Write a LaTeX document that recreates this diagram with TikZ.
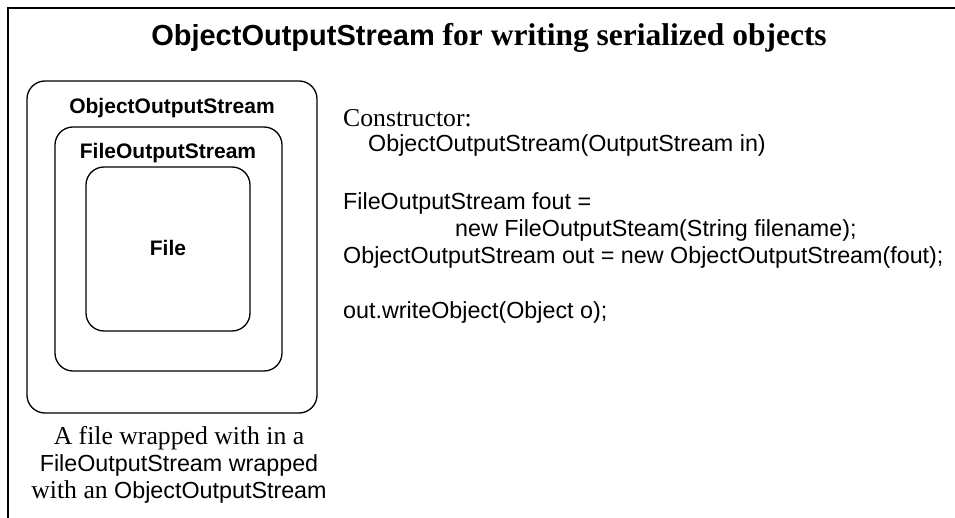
\documentclass[tikz,border=0pt]{standalone}
\usepackage{fontspec}
\setmainfont{Liberation Serif}
\setsansfont{Liberation Sans}
\newcommand{\serfont}{\rmfamily\fontsize{25.7}{27}\selectfont}
\begin{document}
\begin{tikzpicture}[x=1pt,y=-1pt,
  box/.style={draw, line width=1.3pt, rounded corners=18pt, inner sep=0},
  lbl/.style={font=\sffamily\bfseries\fontsize{21}{25}\selectfont, inner sep=0},
  code/.style={anchor=west, inner sep=0, font=\sffamily\fontsize{23.3}{27}\selectfont}]
\useasboundingbox (0,0) rectangle (955,518);
\draw[line width=2pt] (8,518) -- (8,8) -- (955,8);
\node[inner sep=0] (title) at (489,38) {\bfseries{\sffamily\fontsize{29}{34}\selectfont ObjectOutputStream}{\rmfamily\fontsize{31.5}{34}\selectfont{} for writing serialized objects}};
\node[box, minimum width=290pt, minimum height=332pt] (outer) at (172,247) {};
\node[box, minimum width=227pt, minimum height=244pt] (middle) at (168.5,249) {};
\node[box, minimum width=164pt, minimum height=164pt] (inner) at (168,249) {};
\node[lbl] (lo) at (172,108) {ObjectOutputStream};
\node[lbl] (lm) at (168,153) {FileOutputStream};
\node[lbl] (li) at (168,248) {File};
\node[inner sep=0, align=center, font=\sffamily\fontsize{23.3}{27}\selectfont] (cap) at (179,465)
  {{\serfont A file wrapped with in a}\\FileOutputStream wrapped\\{\serfont with an} ObjectOutputStream};
\node[code] (cons) at (343,118) {\serfont Constructor:};
\node[code] (ctor) at (368,145) {ObjectOutputStream(OutputStream in)};
\node[code] (fout) at (343,203) {FileOutputStream fout =};
\node[code] (newf) at (455,230) {new FileOutputSteam(String filename);};
\node[code] (oos) at (343,257) {ObjectOutputStream out = new ObjectOutputStream(fout);};
\node[code] (wr) at (343,312) {out.writeObject(Object o);};
\end{tikzpicture}
\end{document}
